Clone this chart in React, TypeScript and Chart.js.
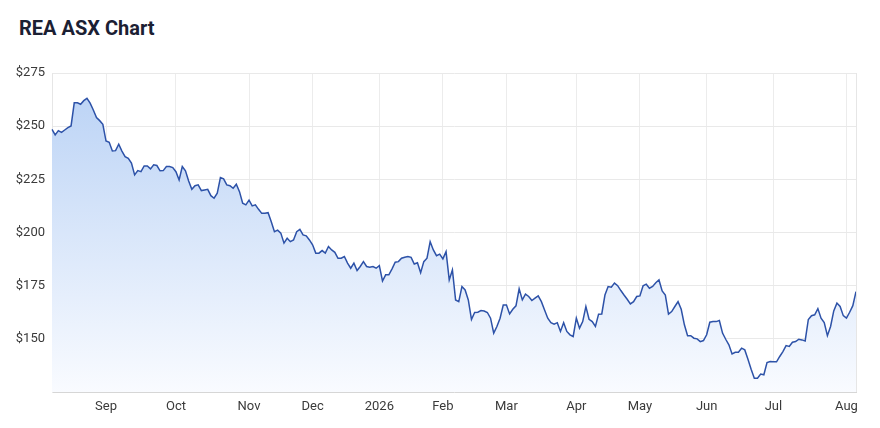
import React, { useEffect, useRef } from 'react';
import { Chart, registerables } from 'chart.js';

Chart.register(...registerables);

// Daily closing prices (ASX trading days), grouped by month
const aug2025 = [248.5, 245.9, 247.9, 247.1, 248.2, 249.3, 250.1, 261.0, 261.0, 260.3, 262.0, 263.1, 260.8, 257.6, 254.0, 252.6, 250.9];
const sep2025 = [243.0, 242.4, 238.3, 238.5, 241.5, 238.3, 235.7, 234.9, 232.6, 227.1, 229.1, 228.6, 231.3, 231.3, 229.9, 231.8, 231.5, 229.0, 229.1, 231.0, 231.0, 230.5];
const oct2025 = [228.6, 224.7, 231.0, 229.0, 224.2, 220.3, 222.0, 222.4, 219.7, 220.0, 220.3, 217.3, 216.1, 218.5, 225.8, 225.2, 222.4, 222.0, 220.8, 222.7, 219.2, 213.8, 213.0];
const nov2025 = [215.2, 212.5, 213.0, 210.9, 209.0, 209.0, 209.3, 205.1, 200.4, 201.1, 199.7, 195.0, 197.3, 195.7, 196.5, 200.4, 201.5, 198.9, 198.4, 196.5];
const dec2025 = [194.2, 190.3, 190.3, 191.5, 190.3, 193.4, 191.8, 190.7, 187.9, 187.9, 188.7, 185.6, 183.2, 185.6, 182.1, 184.0, 186.3, 184.0, 183.7, 184.0, 183.2];
const jan2026 = [184.4, 177.2, 180.1, 180.1, 182.9, 186.0, 186.3, 187.9, 188.4, 188.7, 188.3, 185.2, 185.8, 181.1, 186.3, 187.9, 195.7, 191.8, 189.1, 189.8];
const feb2026 = [187.6, 191.0, 177.7, 182.4, 168.3, 167.5, 174.6, 173.0, 168.3, 159.1, 162.4, 162.5, 163.3, 163.1, 162.4, 159.7, 152.7, 155.8, 159.7, 165.9];
const mar2026 = [165.9, 161.7, 163.9, 165.5, 173.5, 168.3, 171.0, 169.9, 168.0, 169.1, 170.2, 167.5, 163.6, 159.7, 157.6, 156.9, 157.6, 153.5, 157.6, 153.5, 151.9, 151.1];
const apr2026 = [159.7, 155.0, 158.1, 165.2, 159.2, 158.1, 155.8, 161.6, 161.7, 170.6, 174.6, 174.3, 176.2, 175.0, 172.7, 170.6, 168.6, 166.4, 167.5, 169.9];
const may2026 = [170.2, 174.9, 175.7, 173.8, 174.6, 176.4, 177.7, 172.5, 170.6, 161.6, 162.8, 165.2, 167.5, 163.9, 156.6, 151.5, 151.5, 150.3, 150.0, 148.7, 149.2];
const jun2026 = [151.9, 157.8, 158.1, 158.1, 158.6, 152.7, 149.8, 147.2, 142.9, 143.7, 143.7, 145.6, 144.8, 140.4, 135.7, 131.5, 131.5, 133.4, 133.1, 138.8, 139.3];
const jul2026 = [139.2, 139.2, 141.7, 144.0, 146.8, 146.4, 148.4, 148.7, 149.8, 149.5, 149.0, 159.1, 160.9, 161.3, 164.2, 159.7, 157.6, 151.5, 155.8, 163.1, 166.8, 165.2, 160.9];
const aug2026 = [159.7, 162.5, 165.6, 172.2];

const monthLabels = ['Aug', 'Sep', 'Oct', 'Nov', 'Dec', '2026', 'Feb', 'Mar', 'Apr', 'May', 'Jun', 'Jul', 'Aug'];
const monthSeries = [aug2025, sep2025, oct2025, nov2025, dec2025, jan2026, feb2026, mar2026, apr2026, may2026, jun2026, jul2026, aug2026];

const yTicks = [150, 175, 200, 225, 250, 275];

export default function App() {
  const canvasRef = useRef<HTMLCanvasElement | null>(null);

  useEffect(() => {
    const canvas = canvasRef.current;
    if (!canvas) return;

    const labels: string[] = [];
    const values: number[] = [];
    const tickText = new Map<number, string>();
    monthSeries.forEach((arr, m) => {
      arr.forEach((v, k) => {
        if (k === 0 && m > 0) tickText.set(labels.length, monthLabels[m]);
        labels.push(monthLabels[m] + ' ' + (k + 1));
        values.push(v);
      });
    });

    const rightBorder = {
      id: 'rightBorder',
      afterDraw(chart: any) {
        const { ctx, chartArea } = chart;
        ctx.save();
        ctx.strokeStyle = '#e6e6e6';
        ctx.lineWidth = 1;
        ctx.beginPath();
        ctx.moveTo(Math.round(chartArea.right) + 0.5, chartArea.top);
        ctx.lineTo(Math.round(chartArea.right) + 0.5, chartArea.bottom);
        ctx.stroke();
        ctx.restore();
      },
    };

    const chart = new Chart(canvas, {
      type: 'line',
      data: {
        labels,
        datasets: [
          {
            data: values,
            borderColor: '#2d52a8',
            borderWidth: 1.5,
            pointRadius: 0,
            pointHoverRadius: 0,
            tension: 0,
            fill: 'start',
            backgroundColor: (ctx: any) => {
              const area = ctx.chart.chartArea;
              if (!area) return 'rgba(185,210,245,0.8)';
              const g = ctx.chart.ctx.createLinearGradient(0, area.top, 0, area.bottom);
              g.addColorStop(0, 'rgb(184,209,245)');
              g.addColorStop(1, 'rgb(249,251,255)');
              return g;
            },
          },
        ],
      },
      options: {
        animation: false,
        responsive: false,
        maintainAspectRatio: false,
        layout: { padding: { top: 73, right: 24, left: 0, bottom: 6 } },
        plugins: {
          legend: { display: false },
          tooltip: { enabled: false },
          title: { display: false },
        },
        scales: {
          x: {
            type: 'category',
            afterBuildTicks: (scale: any) => {
              scale.ticks = scale.ticks.filter((t: any) => tickText.has(t.value));
            },
            afterFit: (scale: any) => {
              scale.height = 30;
            },
            ticks: {
              autoSkip: false,
              maxRotation: 0,
              padding: 7,
              color: '#3a3a3a',
              font: { family: 'Roboto, sans-serif', size: 13 },
              callback: (value: any) => tickText.get(value as number) ?? null,
            },
            grid: { color: '#ececec', drawTicks: false },
            border: { display: true, color: '#d6d6d6' },
          },
          y: {
            min: 125,
            max: 275,
            afterBuildTicks: (scale: any) => {
              scale.ticks = yTicks.map((v) => ({ value: v }));
            },
            afterFit: (scale: any) => {
              scale.width = 52;
            },
            ticks: {
              padding: 7,
              color: '#3a3a3a',
              font: { family: 'Roboto, sans-serif', size: 13 },
              callback: (value: any) => '$' + value,
            },
            grid: { color: '#e9e9e9', drawTicks: false },
            border: { display: true, color: '#e6e6e6' },
          },
        },
      },
      plugins: [rightBorder],
    } as any);

    return () => {
      chart.destroy();
    };
  }, []);

  return (
    <div style={{ position: 'fixed', left: 0, top: 0, width: 880, height: 428, background: '#ffffff' }}>
      <div
        style={{
          position: 'absolute',
          left: 19,
          top: 16,
          fontFamily: 'Roboto, sans-serif',
          fontWeight: 700,
          fontSize: 20,
          color: '#1b2033',
          lineHeight: '24px',
        }}
      >
        REA ASX Chart
      </div>
      <canvas ref={canvasRef} width={880} height={428} style={{ position: 'absolute', left: 0, top: 0, width: 880, height: 428 }} />
    </div>
  );
}
